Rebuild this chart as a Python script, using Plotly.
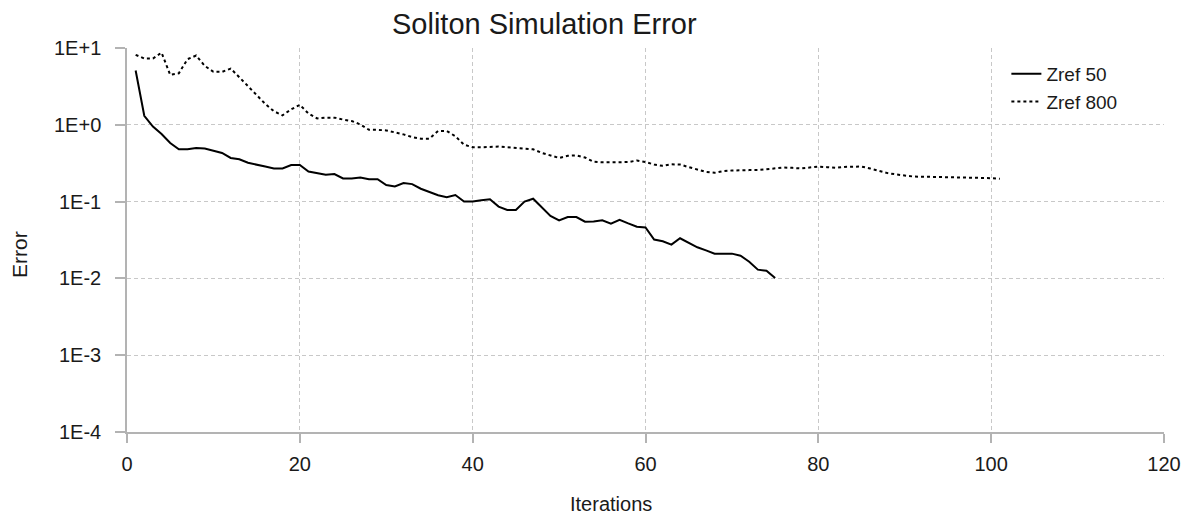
import plotly.graph_objects as go

# Error per iteration for each reference resolution
iters_50 = list(range(1, 76))
err_50 = [5.1, 1.31, 0.95, 0.76, 0.58, 0.48, 0.48, 0.50, 0.49, 0.46,
          0.43, 0.37, 0.355, 0.32, 0.30, 0.286, 0.27, 0.27, 0.30, 0.30,
          0.247, 0.237, 0.223, 0.228, 0.20, 0.20, 0.206, 0.196, 0.196, 0.164,
          0.157, 0.174, 0.169, 0.147, 0.134, 0.121, 0.114, 0.122, 0.10, 0.10,
          0.104, 0.107, 0.086, 0.078, 0.078, 0.10, 0.109, 0.0845, 0.065, 0.057,
          0.063, 0.063, 0.0548, 0.055, 0.057, 0.0516, 0.058, 0.052, 0.047, 0.046,
          0.032, 0.0304, 0.0275, 0.0333, 0.0292, 0.0254, 0.0232, 0.021, 0.021, 0.021,
          0.0197, 0.0165, 0.013, 0.0126, 0.0101]

iters_800 = list(range(1, 102))
err_800 = [8.15, 7.3, 7.3, 8.7, 4.47, 4.69, 7.15, 7.97, 5.85, 4.89,
           4.89, 5.4, 4.16, 3.17, 2.42, 1.87, 1.5, 1.33, 1.59, 1.82,
           1.40, 1.21, 1.24, 1.24, 1.17, 1.12, 1.01, 0.86, 0.86, 0.845,
           0.796, 0.75, 0.69, 0.66, 0.66, 0.83, 0.83, 0.71, 0.55, 0.51,
           0.51, 0.52, 0.52, 0.51, 0.50, 0.50, 0.48, 0.43, 0.395, 0.37,
           0.395, 0.40, 0.375, 0.33, 0.325, 0.325, 0.325, 0.327, 0.343, 0.327,
           0.304, 0.292, 0.306, 0.304, 0.281, 0.262, 0.244, 0.237, 0.249, 0.254,
           0.257, 0.257, 0.257, 0.265, 0.275, 0.278, 0.275, 0.27, 0.278, 0.286,
           0.281, 0.275, 0.283, 0.286, 0.286, 0.27, 0.252, 0.235, 0.226, 0.217,
           0.212, 0.211, 0.21, 0.209, 0.208, 0.207, 0.205, 0.204, 0.203, 0.202,
           0.198]

y_tickvals = [1e-4, 1e-3, 1e-2, 1e-1, 1e0, 1e1]
y_ticktext = ["1E-4", "1E-3", "1E-2", "1E-1", "1E+0", "1E+1"]
x_tickvals = [0, 20, 40, 60, 80, 100, 120]

FONT = "Liberation Sans, Arial, sans-serif"
TXT = "#1a1a1a"
AXIS = "#b3b3b3"
GRID = "#c8c8c8"

fig = go.Figure()
fig.add_trace(go.Scatter(x=iters_50, y=err_50, mode="lines", name="Zref 50",
                         line=dict(color="black", width=2)))
fig.add_trace(go.Scatter(x=iters_800, y=err_800, mode="lines", name="Zref 800",
                         line=dict(color="black", width=2, dash="3px,3px")))

fig.update_layout(
    width=1193, height=514,
    margin=dict(l=127, r=26, t=48, b=82),
    paper_bgcolor="white", plot_bgcolor="white",
    font=dict(family=FONT, size=20, color=TXT),
    showlegend=True,
    legend=dict(x=0.848, y=0.982, xanchor="left", yanchor="top",
                bgcolor="rgba(0,0,0,0)", font=dict(size=19, color=TXT),
                itemwidth=30, tracegroupgap=0),
    annotations=[
        dict(text="Soliton Simulation Error", xref="paper", yref="paper",
             x=(546 - 127) / 1040, y=1.0, yshift=6, xanchor="center", yanchor="bottom",
             showarrow=False, font=dict(size=29, color=TXT)),
        dict(text="Iterations", xref="paper", yref="paper",
             x=(612 - 127) / 1040, y=0, yshift=-59, xanchor="center", yanchor="top",
             showarrow=False, font=dict(size=20, color=TXT)),
        dict(text="Error", xref="paper", yref="paper", textangle=-90,
             x=0, xshift=-108, y=0.5, yshift=-15, xanchor="center", yanchor="middle",
             showarrow=False, font=dict(size=21, color=TXT)),
    ],
)

fig.update_xaxes(range=[0, 120], tickvals=x_tickvals,
                 showline=True, linecolor=AXIS, linewidth=1.5,
                 ticks="outside", ticklen=9, tickcolor=AXIS, tickwidth=1.5,
                 showgrid=True, gridcolor=GRID, griddash="4px,3px", gridwidth=1,
                 zeroline=False, tickfont=dict(size=20, color=TXT),
                 ticklabelstandoff=4)
fig.update_yaxes(type="log", range=[-4, 1], tickvals=y_tickvals, ticktext=y_ticktext,
                 showline=True, linecolor=AXIS, linewidth=1.5,
                 ticks="outside", ticklen=10, tickcolor=AXIS, tickwidth=1.5,
                 showgrid=True, gridcolor=GRID, griddash="4px,3px", gridwidth=1,
                 zeroline=False, tickfont=dict(size=20, color=TXT),
                 ticklabelstandoff=10)

fig.write_html("out.html")
